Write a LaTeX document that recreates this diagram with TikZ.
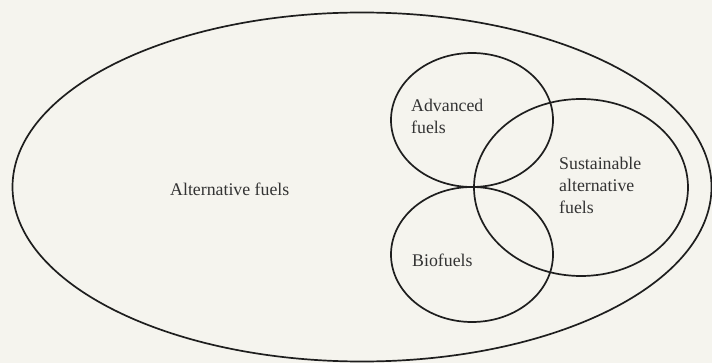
\documentclass[tikz,border=0pt]{standalone}
\usepackage{fontspec}
\setmainfont{Liberation Serif}
\usetikzlibrary{shapes.geometric}
\definecolor{bg}{HTML}{F5F4EE}
\definecolor{ink}{HTML}{1E1E1E}
\definecolor{txt}{HTML}{333333}
\begin{document}
\begin{tikzpicture}[x=1pt,y=-1pt,
  setring/.style={ellipse, draw=ink, line width=1.7pt, inner sep=0pt, outer sep=0pt},
  label/.style={anchor=west, align=left, inner sep=0pt, text=txt, font=\fontsize{17.8}{22}\selectfont}]
\fill[bg] (0,0) rectangle (712,363);
\useasboundingbox (0,0) rectangle (712,363);
\node[setring, minimum width=699pt, minimum height=349pt] (alt) at (362,187) {};
\node[setring, minimum width=162pt, minimum height=134pt] (adv) at (472,120) {};
\node[setring, minimum width=162pt, minimum height=135pt] (bio) at (472,254.5) {};
\node[setring, minimum width=214pt, minimum height=177pt] (sus) at (581,187.5) {};
\node[label] (altl) at (170,189) {Alternative fuels};
\node[label] (advl) at (411,116) {Advanced\\fuels};
\node[label] (susl) at (559,185) {Sustainable\\alternative\\fuels};
\node[label] (biol) at (412,260) {Biofuels};
\end{tikzpicture}
\end{document}
